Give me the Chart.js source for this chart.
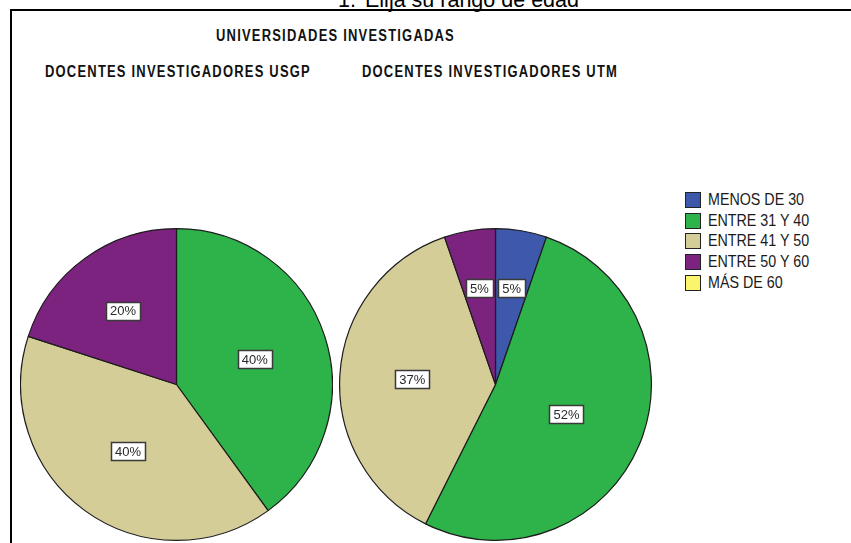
<!DOCTYPE html>
<html>
<head>
<meta charset="utf-8">
<script src="https://cdn.jsdelivr.net/npm/chart.js@4.4.1/dist/chart.umd.min.js"></script>
<style>
    body {
        margin: 0;
        width: 851px;
        height: 543px;
        overflow: hidden;
        position: relative;
        background: #fff;
        font-family: Arial, "Liberation Sans", sans-serif;
    }
    .question {
        position: absolute;
        top: -10px;
        font-size: 21.5px;
        line-height: 20px;
        color: #000;
        white-space: nowrap;
    }
    #frame {
        position: absolute;
        left: 10px;
        top: 9px;
        width: 900px;
        height: 600px;
        border: 2px solid #000;
    }
    /* no narrow font installed, so squeeze a bold sans instead */
    .title {
        position: absolute;
        font-family: Arial, "Liberation Sans", sans-serif;
        font-weight: bold;
        font-size: 16px;
        line-height: 16px;
        letter-spacing: 1.5px;
        color: #111;
        white-space: nowrap;
        transform: scaleX(0.81);
        transform-origin: 0 0;
    }
    canvas {
        position: absolute;
    }
    #legend {
        position: absolute;
        left: 685px;
        top: 192px;
    }
    #legend .row {
        position: absolute;
        left: 0;
        height: 16px;
        white-space: nowrap;
    }
    #legend .box {
        position: absolute;
        left: 0;
        top: 0;
        width: 16px;
        height: 16px;
        box-sizing: border-box;
        border: 1px solid #222;
    }
    #legend .text {
        position: absolute;
        left: 23px;
        top: -1px;
        font-size: 17px;
        line-height: 18px;
        color: #1a1a1a;
        transform: scaleX(0.84);
        transform-origin: 0 0;
    }
</style>
</head>
<body>
<span class="question" style="left:338px">1.</span>
<span class="question" style="left:365px">Elija su rango de edad</span>
<div id="frame"></div>
<div class="title" style="left:216px; top:28px">UNIVERSIDADES INVESTIGADAS</div>
<div class="title" style="left:45px; top:64px">DOCENTES INVESTIGADORES USGP</div>
<div class="title" style="left:362px; top:64px">DOCENTES INVESTIGADORES UTM</div>
<canvas id="usgp" width="313" height="313" style="left:20px; top:228px"></canvas>
<canvas id="utm" width="313" height="313" style="left:339px; top:228px"></canvas>
<div id="legend"></div>

<script>
const ageGroups = ['MENOS DE 30', 'ENTRE 31 Y 40', 'ENTRE 41 Y 50', 'ENTRE 50 Y 60', 'MÁS DE 60'];
const usgpPercent = [0, 40, 40, 20, 0];
const utmPercent = [5.3, 52.1, 37.3, 5.3, 0];
const groupColors = ['#3e58ac', '#2eb34a', '#d5cd98', '#7b237f', '#faf56c'];

// white boxed percentage labels inside each slice
const sliceLabels = {
    id: 'sliceLabels',
    afterDatasetsDraw(chart) {
        const ctx = chart.ctx;
        const values = chart.data.datasets[0].data;
        const total = values.reduce((a, b) => a + b, 0);

        ctx.save();
        ctx.font = '13px Arial, "Liberation Sans", sans-serif';
        ctx.textAlign = 'center';
        ctx.textBaseline = 'middle';

        chart.getDatasetMeta(0).data.forEach((arc, i) => {
            const v = values[i];
            if (!v) {
                return;
            }
            const p = v / total;
            const { x, y, startAngle, endAngle, outerRadius } =
                arc.getProps(['x', 'y', 'startAngle', 'endAngle', 'outerRadius'], true);
            const mid = (startAngle + endAngle) / 2;
            const r = outerRadius * (0.64 - 0.28 * p); // small slices sit further out
            const cx = x + Math.cos(mid) * r;
            const cy = y + Math.sin(mid) * r;
            const text = Math.round(p * 100) + '%';
            const w = Math.round(ctx.measureText(text).width + 8);
            const h = 18;
            const left = Math.round(cx - w / 2) + 0.5;
            const top = Math.round(cy - h / 2) + 0.5;

            ctx.fillStyle = '#fff';
            ctx.fillRect(left, top, w, h);
            ctx.strokeStyle = '#3a3a3a';
            ctx.lineWidth = 1.5;
            ctx.strokeRect(left, top, w, h);
            ctx.fillStyle = '#2a2a2a';
            ctx.fillText(text, cx, cy + 1);
        });
        ctx.restore();
    },
};

function pie(id, values) {
    return new Chart(document.getElementById(id), {
        type: 'pie',
        data: {
            labels: ageGroups,
            datasets: [{
                data: values,
                backgroundColor: groupColors,
                borderColor: '#1c1c1c',
                borderWidth: 1.2,
            }],
        },
        options: {
            responsive: false,
            animation: false,
            layout: { padding: 0 },
            plugins: {
                legend: { display: false },
                tooltip: { enabled: false },
            },
        },
        plugins: [sliceLabels],
    });
}

pie('usgp', usgpPercent);
const utmChart = pie('utm', utmPercent);

// legend built from the chart's own legend items
const legend = document.getElementById('legend');
const items = Chart.overrides.pie.plugins.legend.labels.generateLabels(utmChart);
items.forEach((item, i) => {
    const row = document.createElement('div');
    row.className = 'row';
    row.style.top = (i * 20.7) + 'px';
    row.innerHTML = '<span class="box" style="background:' + item.fillStyle + '"></span>' +
        '<span class="text">' + item.text + '</span>';
    legend.appendChild(row);
});
</script>
</body>
</html>
